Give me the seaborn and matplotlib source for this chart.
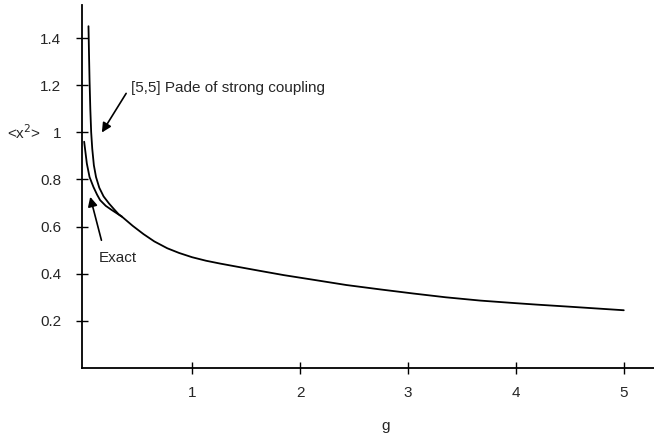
import numpy as np
import pandas as pd
import seaborn as sns
from matplotlib import pyplot as plt

# Exact curve
exact_g = [0.0, 0.025, 0.05, 0.086, 0.12, 0.148, 0.2, 0.25, 0.3, 0.35, 0.45,
           0.55, 0.65, 0.77, 0.88, 1.0, 1.13, 1.26, 1.39, 1.63, 1.85, 2.1,
           2.43, 2.75, 3.05, 3.35, 3.67, 4.0, 4.19, 4.5, 4.8, 5.0]
exact_x2 = [0.96, 0.867, 0.81, 0.768, 0.735, 0.712, 0.688, 0.672, 0.657, 0.642,
            0.603, 0.568, 0.537, 0.508, 0.488, 0.470, 0.455, 0.443, 0.432,
            0.412, 0.394, 0.376, 0.352, 0.333, 0.316, 0.300, 0.286, 0.275,
            0.269, 0.260, 0.251, 0.245]

# [5,5] Pade of strong coupling, only where it departs from the exact curve
pade_g = [0.040, 0.045, 0.050, 0.057, 0.065, 0.075, 0.09, 0.11, 0.14, 0.18,
          0.23, 0.28, 0.32, 0.35]
pade_x2 = [1.45, 1.33, 1.22, 1.10, 1.00, 0.93, 0.86, 0.81, 0.765, 0.728,
           0.698, 0.672, 0.652, 0.642]

x_ticks = [1, 2, 3, 4, 5]
y_ticks = [0.2, 0.4, 0.6, 0.8, 1.0, 1.2, 1.4]
y_tick_labels = ["0.2", "0.4", "0.6", "0.8", "1", "1.2", "1.4"]

sns.set_style("ticks")
plt.rcParams['font.family'] = ['Liberation Sans', 'DejaVu Sans']

fig = plt.figure(figsize=(6.54, 4.37), dpi=100)
ax = fig.add_axes([82 / 654, 69 / 437, 572 / 654, 363 / 437])

exact = pd.DataFrame({"g": exact_g, "x2": exact_x2})
pade = pd.DataFrame({"g": pade_g, "x2": pade_x2})
sns.lineplot(data=exact, x="g", y="x2", color="black", lw=1.3, ax=ax, sort=False)
sns.lineplot(data=pade, x="g", y="x2", color="black", lw=1.3, ax=ax, sort=False)

ax.set_xlim(-0.02, 5.28)
ax.set_ylim(0.0, 1.54)
ax.set_xticks(x_ticks)
ax.set_xticklabels([str(t) for t in x_ticks])
ax.set_yticks(y_ticks)
ax.set_yticklabels(y_tick_labels)
ax.tick_params(direction="inout", length=8, width=1.0, labelsize=11, color="black")
ax.tick_params(axis="x", pad=9)
ax.tick_params(axis="y", pad=11)

sns.despine(ax=ax)
for side in ("left", "bottom"):
    ax.spines[side].set_linewidth(1.3)
    ax.spines[side].set_color("black")

ax.set_xlabel("g", fontsize=11, va="center")
ax.xaxis.set_label_coords(0.531, -0.16)
ax.set_ylabel("<x$^2$>", fontsize=11, rotation=0, ha="center", va="center")
ax.yaxis.set_label_coords(-0.101, 0.647)

arrow = dict(arrowstyle="-|>", color="black", lw=1.2, mutation_scale=14,
             shrinkA=0, shrinkB=0)

ax.text(0.432, 1.19, "[5,5] Pade of strong coupling", fontsize=11,
        ha="left", va="center")
ax.annotate("", xy=(0.164, 0.999), xytext=(0.389, 1.165), arrowprops=arrow)

ax.text(0.139, 0.467, "Exact", fontsize=11, ha="left", va="center")
ax.annotate("", xy=(0.056, 0.726), xytext=(0.160, 0.542), arrowprops=arrow)

fig.savefig("out.png", dpi=100)
